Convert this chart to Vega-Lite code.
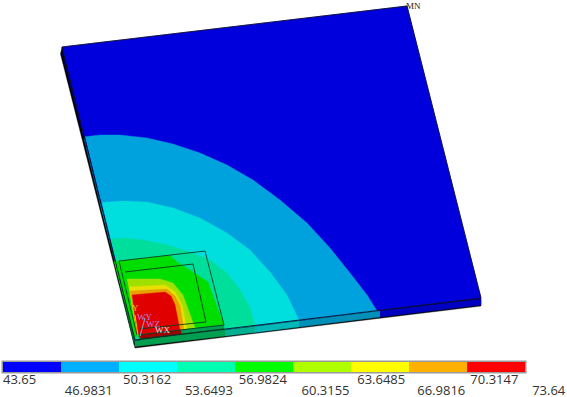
{"$schema":"https://vega.github.io/schema/vega-lite/v6.json","width":567,"height":397,"padding":0,"autosize":{"type":"fit","contains":"padding"},"background":"white","view":{"stroke":null},
"config":{"view":{"stroke":null}},
"datasets":{
"faces":[
{"s":"sil","b":"black","x":62,"y":47},{"s":"sil","b":"black","x":60.5,"y":54},{"s":"sil","b":"black","x":135,"y":348},{"s":"sil","b":"black","x":481,"y":306},{"s":"sil","b":"black","x":481,"y":298},
{"s":"l1","b":"navy","x":61.5,"y":50},{"s":"l1","b":"navy","x":62,"y":54},{"s":"l1","b":"navy","x":84,"y":140},{"s":"l1","b":"navy","x":85,"y":136},
{"s":"l2","b":"deep","x":84,"y":140},{"s":"l2","b":"deep","x":85,"y":136},{"s":"l2","b":"deep","x":102,"y":205},{"s":"l2","b":"deep","x":101,"y":209},
{"s":"l3","b":"dteal","x":101,"y":209},{"s":"l3","b":"dteal","x":102,"y":205},{"s":"l3","b":"dteal","x":111,"y":240},{"s":"l3","b":"dteal","x":110,"y":244},
{"s":"l4","b":"dgreen","x":110,"y":244},{"s":"l4","b":"dgreen","x":111,"y":240},{"s":"l4","b":"dgreen","x":135,"y":340},{"s":"l4","b":"dgreen","x":134,"y":345},
{"s":"f1","b":"fgreen","x":135,"y":341},{"s":"f1","b":"fgreen","x":225,"y":330},{"s":"f1","b":"fgreen","x":225,"y":336},{"s":"f1","b":"fgreen","x":135,"y":346.5},
{"s":"f2","b":"fteal","x":225,"y":330},{"s":"f2","b":"fteal","x":255,"y":326.5},{"s":"f2","b":"fteal","x":255,"y":332.5},{"s":"f2","b":"fteal","x":225,"y":336},
{"s":"f3","b":"fcyan","x":255,"y":326.5},{"s":"f3","b":"fcyan","x":299,"y":321},{"s":"f3","b":"fcyan","x":299,"y":327},{"s":"f3","b":"fcyan","x":255,"y":332.5},
{"s":"f4","b":"fsky","x":299,"y":321},{"s":"f4","b":"fsky","x":380,"y":311},{"s":"f4","b":"fsky","x":380,"y":317},{"s":"f4","b":"fsky","x":299,"y":327},
{"s":"f5","b":"fblue","x":380,"y":311},{"s":"f5","b":"fblue","x":481,"y":299},{"s":"f5","b":"fblue","x":481,"y":305},{"s":"f5","b":"fblue","x":380,"y":317},
{"s":"p0","b":"b1","x":62,"y":47},{"s":"p0","b":"b1","x":407,"y":6},{"s":"p0","b":"b1","x":481,"y":298},{"s":"p0","b":"b1","x":135,"y":340},
{"s":"p1","b":"b2","x":85,"y":136.7},{"s":"p1","b":"b2","x":100,"y":135},{"s":"p1","b":"b2","x":120,"y":135},{"s":"p1","b":"b2","x":147,"y":138},{"s":"p1","b":"b2","x":173,"y":144},{"s":"p1","b":"b2","x":200,"y":153},{"s":"p1","b":"b2","x":227,"y":165},{"s":"p1","b":"b2","x":253,"y":180},{"s":"p1","b":"b2","x":280,"y":200},{"s":"p1","b":"b2","x":307,"y":223},{"s":"p1","b":"b2","x":330,"y":248},{"s":"p1","b":"b2","x":350,"y":273},{"s":"p1","b":"b2","x":367,"y":295},{"s":"p1","b":"b2","x":377,"y":311},{"s":"p1","b":"b2","x":135,"y":340},
{"s":"p2","b":"b3","x":102,"y":202.5},{"s":"p2","b":"b3","x":123,"y":201},{"s":"p2","b":"b3","x":147,"y":202},{"s":"p2","b":"b3","x":173,"y":208},{"s":"p2","b":"b3","x":200,"y":218},{"s":"p2","b":"b3","x":227,"y":233},{"s":"p2","b":"b3","x":250,"y":250},{"s":"p2","b":"b3","x":270,"y":272},{"s":"p2","b":"b3","x":287,"y":295},{"s":"p2","b":"b3","x":299,"y":320},{"s":"p2","b":"b3","x":135,"y":340},
{"s":"p3","b":"b4","x":111,"y":239},{"s":"p3","b":"b4","x":123,"y":238},{"s":"p3","b":"b4","x":143,"y":240},{"s":"p3","b":"b4","x":167,"y":245},{"s":"p3","b":"b4","x":190,"y":252},{"s":"p3","b":"b4","x":210,"y":260},{"s":"p3","b":"b4","x":227,"y":273},{"s":"p3","b":"b4","x":240,"y":290},{"s":"p3","b":"b4","x":250,"y":308},{"s":"p3","b":"b4","x":255,"y":325.5},{"s":"p3","b":"b4","x":135,"y":340},
{"s":"g0","b":"b5","x":114,"y":262},{"s":"g0","b":"b5","x":119,"y":261},{"s":"g0","b":"b5","x":137,"y":335},{"s":"g0","b":"b5","x":135,"y":340},
{"s":"g1","b":"b5","x":119,"y":261},{"s":"g1","b":"b5","x":170,"y":255.5},{"s":"g1","b":"b5","x":177,"y":262},{"s":"g1","b":"b5","x":193,"y":272},{"s":"g1","b":"b5","x":208,"y":282},{"s":"g1","b":"b5","x":213,"y":296},{"s":"g1","b":"b5","x":224,"y":325},{"s":"g1","b":"b5","x":137,"y":335},
{"s":"g2","b":"b6","x":127,"y":279},{"s":"g2","b":"b6","x":160,"y":279},{"s":"g2","b":"b6","x":173,"y":283},{"s":"g2","b":"b6","x":183,"y":295},{"s":"g2","b":"b6","x":195,"y":328},{"s":"g2","b":"b6","x":137,"y":335},
{"s":"g3","b":"b7","x":129,"y":287},{"s":"g3","b":"b7","x":165,"y":285},{"s":"g3","b":"b7","x":175,"y":292},{"s":"g3","b":"b7","x":182,"y":305},{"s":"g3","b":"b7","x":187,"y":329},{"s":"g3","b":"b7","x":137,"y":335},
{"s":"g4","b":"b8","x":130,"y":291},{"s":"g4","b":"b8","x":167,"y":289},{"s":"g4","b":"b8","x":175,"y":296},{"s":"g4","b":"b8","x":180,"y":305},{"s":"g4","b":"b8","x":184,"y":330},{"s":"g4","b":"b8","x":137,"y":335},
{"s":"g5","b":"b9","x":132,"y":295},{"s":"g5","b":"b9","x":165,"y":292},{"s":"g5","b":"b9","x":171,"y":296},{"s":"g5","b":"b9","x":175,"y":305},{"s":"g5","b":"b9","x":180,"y":330},{"s":"g5","b":"b9","x":137,"y":335},
{"s":"c1","b":"fgreen","x":137,"y":335},{"s":"c1","b":"fgreen","x":224,"y":325},{"s":"c1","b":"fgreen","x":224,"y":330},{"s":"c1","b":"fgreen","x":141,"y":341},
{"s":"c2","b":"dred","x":139,"y":335},{"s":"c2","b":"dred","x":181,"y":330},{"s":"c2","b":"dred","x":181,"y":334},{"s":"c2","b":"dred","x":141,"y":339}
],
"edges":[
{"s":"e1","b":"edge","x":62,"y":47},{"s":"e1","b":"edge","x":407,"y":6},{"s":"e1","b":"edge","x":481,"y":298},{"s":"e1","b":"edge","x":135,"y":340},{"s":"e1","b":"edge","x":62,"y":47},
{"s":"o1","b":"chip","x":119,"y":261},{"s":"o1","b":"chip","x":205,"y":251},{"s":"o1","b":"chip","x":224,"y":325},{"s":"o1","b":"chip","x":137,"y":335},{"s":"o1","b":"chip","x":119,"y":261},
{"s":"i1","b":"chip","x":125,"y":272},{"s":"i1","b":"chip","x":193,"y":264},{"s":"i1","b":"chip","x":206,"y":322},{"s":"i1","b":"chip","x":139,"y":329},
{"s":"k1","b":"chip","x":139,"y":339},{"s":"k1","b":"chip","x":224,"y":329},
{"s":"ty","b":"b7","x":138,"y":336},{"s":"ty","b":"b7","x":135,"y":315},
{"s":"tz","b":"tri","x":140,"y":336},{"s":"tz","b":"tri","x":145,"y":318}
],
"notes":[
{"t":"MN","x":406,"y":9,"c":"ink"},
{"t":"Y","x":132,"y":311,"c":"yel"},
{"t":"WY","x":137,"y":320,"c":"vio"},
{"t":"WZ","x":146,"y":327,"c":"vio"},
{"t":"WX","x":155,"y":333,"c":"sky"}
],
"bands":[
{"from":43.65,"to":46.9831,"b":"l1"},{"from":46.9831,"to":50.3162,"b":"l2"},{"from":50.3162,"to":53.6493,"b":"l3"},{"from":53.6493,"to":56.9824,"b":"l4"},{"from":56.9824,"to":60.3155,"b":"l5"},{"from":60.3155,"to":63.6485,"b":"l6"},{"from":63.6485,"to":66.9816,"b":"l7"},{"from":66.9816,"to":70.3147,"b":"l8"},{"from":70.3147,"to":73.64,"b":"l9"}
],
"labels":[
{"v":43.65,"t":"43.65","row":1,"at":43.65},{"v":46.9831,"t":"46.9831","row":2,"at":47.2},{"v":50.3162,"t":"50.3162","row":1,"at":50.55},{"v":53.6493,"t":"53.6493","row":2,"at":54.1},{"v":56.9824,"t":"56.9824","row":1,"at":57.2},{"v":60.3155,"t":"60.3155","row":2,"at":60.8},{"v":63.6485,"t":"63.6485","row":1,"at":64},{"v":66.9816,"t":"66.9816","row":2,"at":67.45},{"v":70.3147,"t":"70.3147","row":1,"at":70.5},{"v":73.64,"t":"73.64","row":2,"at":74.05}
]},
"layer":[
{"data":{"name":"faces"},"transform":[{"window":[{"op":"row_number","as":"i"}]}],"mark":{"type":"line","strokeWidth":0.4},
 "encoding":{"x":{"field":"x","type":"quantitative","scale":{"domain":[0,567],"range":[0,567],"nice":false,"zero":false},"axis":null},
 "y":{"field":"y","type":"quantitative","scale":{"domain":[397,0],"range":[397,0],"nice":false,"zero":false},"axis":null},
 "detail":{"field":"s"},"order":{"field":"i","type":"quantitative"},
 "fill":{"field":"b","type":"nominal","legend":null,"scale":{"domain":["black","navy","deep","dteal","dgreen","fgreen","fteal","fcyan","fsky","fblue","b1","b2","b3","b4","b5","b6","b7","b8","b9","dred"],"range":["#000000","#000070","#006085","#008888","#006030","#00A050","#00B090","#00B8B8","#0090B8","#0000C0","#0000DC","#00A2DE","#00DEDE","#00DE9C","#00DE00","#A0E000","#E8E000","#E8A000","#E00000","#A00000"]}},
 "stroke":{"field":"b","type":"nominal","legend":null,"scale":{"domain":["black","navy","deep","dteal","dgreen","fgreen","fteal","fcyan","fsky","fblue","b1","b2","b3","b4","b5","b6","b7","b8","b9","dred"],"range":["#000000","#000070","#006085","#008888","#006030","#00A050","#00B090","#00B8B8","#0090B8","#0000C0","#0000DC","#00A2DE","#00DEDE","#00DE9C","#00DE00","#A0E000","#E8E000","#E8A000","#E00000","#A00000"]}}}},
{"data":{"name":"edges"},"transform":[{"window":[{"op":"row_number","as":"i"}]}],"mark":{"type":"line","strokeWidth":0.9},
 "encoding":{"x":{"field":"x","type":"quantitative","scale":{"domain":[0,567],"range":[0,567],"nice":false,"zero":false},"axis":null},
 "y":{"field":"y","type":"quantitative","scale":{"domain":[397,0],"range":[397,0],"nice":false,"zero":false},"axis":null},
 "detail":{"field":"s"},"order":{"field":"i","type":"quantitative"},
 "stroke":{"field":"b","type":"nominal","legend":null,"scale":{"domain":["edge","chip","b7","tri"],"range":["#101030","#0C3C20","#E8E000","#60D0F0"]}}}},
{"data":{"name":"notes"},"mark":{"type":"text","font":"Liberation Serif","fontSize":9,"align":"left","baseline":"alphabetic"},
 "encoding":{"x":{"field":"x","type":"quantitative","scale":{"domain":[0,567],"range":[0,567],"nice":false,"zero":false},"axis":null},
 "y":{"field":"y","type":"quantitative","scale":{"domain":[397,0],"range":[397,0],"nice":false,"zero":false},"axis":null},
 "text":{"field":"t"},
 "color":{"field":"c","type":"nominal","legend":null,"scale":{"domain":["ink","yel","vio","sky"],"range":["#202020","#E0D020","#B080E0","#C0E8F0"]}}}},
{"data":{"values":[{"a":43.65,"b":73.64}]},"mark":{"type":"rect","fill":"#A8A8A8","stroke":"#9A9A9A","strokeWidth":3},
 "encoding":{"x":{"field":"a","type":"quantitative","scale":{"domain":[43.65,73.64],"range":[3,525],"nice":false,"zero":false},"axis":null},"x2":{"field":"b"},
 "y":{"datum":0,"type":"quantitative","scale":{"domain":[0,1],"range":[372,362],"nice":false,"zero":false},"axis":null},"y2":{"datum":1}}},
{"data":{"name":"bands"},"mark":{"type":"rect"},
 "encoding":{"x":{"field":"from","type":"quantitative","scale":{"domain":[43.65,73.64],"range":[3,525],"nice":false,"zero":false},"axis":null},"x2":{"field":"to"},
 "y":{"datum":0,"type":"quantitative","scale":{"domain":[0,1],"range":[372,362],"nice":false,"zero":false},"axis":null},"y2":{"datum":1},
 "fill":{"field":"b","type":"nominal","legend":null,"scale":{"domain":["l1","l2","l3","l4","l5","l6","l7","l8","l9"],"range":["#0000FF","#00B0FF","#00FFFF","#00FFB0","#00FF00","#B0FF00","#FFFF00","#FFB000","#FF0000"]}}}},
{"data":{"name":"labels"},"mark":{"type":"text","font":"Open Sans","fontSize":13,"align":"left","baseline":"alphabetic","color":"#333333"},
 "encoding":{"x":{"field":"at","type":"quantitative","scale":{"domain":[43.65,73.64],"range":[3,525],"nice":false,"zero":false},"axis":null},
 "y":{"field":"row","type":"quantitative","scale":{"domain":[1,2],"range":[384,394.5],"nice":false,"zero":false},"axis":null},
 "text":{"field":"t"}}}
],
"resolve":{"scale":{"x":"independent","y":"independent","fill":"independent","stroke":"independent","color":"independent"}}}
